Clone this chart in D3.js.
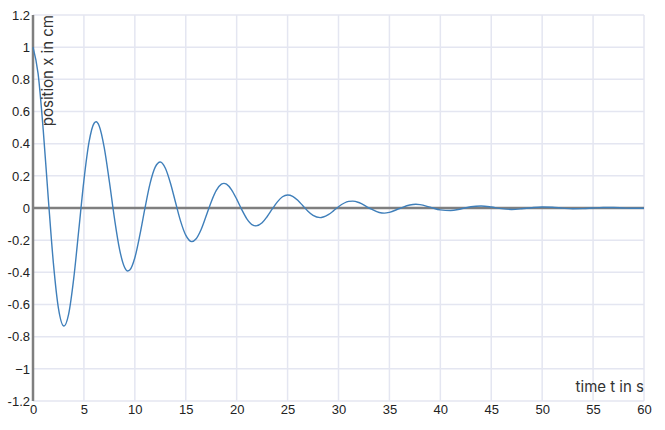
<!DOCTYPE html>
<html>
<head>
<meta charset="utf-8">
<script src="https://cdn.jsdelivr.net/npm/d3@7"></script>
<style>
  body { margin: 0; background: #fff; }
  svg { display: block; }
</style>
</head>
<body>
<div id="chart"></div>
<script>
// values
const timeS = [0, 0.5, 1, 1.5, 2, 2.5, 3.04, 3.5, 4, 4.5, 5, 5.5, 6, 6.2, 6.5, 7, 7.5, 8, 8.5, 9, 9.3, 9.5,
  10, 10.5, 11, 11.5, 12, 12.5, 13, 13.5, 14, 14.5, 15, 15.6, 16, 16.5, 17, 17.5, 18, 18.5, 18.75, 19, 19.5,
  20, 20.5, 21, 21.5, 21.9, 22.5, 23, 23.5, 24, 24.5, 25, 25.5, 26, 26.5, 27, 27.5, 28.2, 28.5, 29, 29.5,
  30, 31, 31.4, 32, 33, 34, 34.5, 35, 36, 37, 37.6, 38, 39, 40, 41, 42, 43, 44, 45, 46, 47, 48, 49,
  50, 51, 52, 53, 54, 55, 56, 57, 58, 59, 60];
const positionCm = [1.000, 0.835, 0.489, 0.061, -0.341, -0.624, -0.734, -0.660, -0.438, -0.134,
  0.172, 0.409, 0.527, 0.536, 0.510, 0.374, 0.164, -0.065, -0.257, -0.370, -0.392, -0.386,
  -0.309, -0.166, 0.001, 0.153, 0.254, 0.286, 0.247, 0.154, 0.034, -0.083,
  -0.169, -0.209, -0.193, -0.135, -0.050, 0.038, 0.109, 0.148, 0.153, 0.148, 0.113,
  0.055, -0.010, -0.067, -0.103, -0.111, -0.092, -0.053, -0.006, 0.038, 0.070,
  0.081, 0.073, 0.048, 0.014, -0.020, -0.046, -0.060, -0.056, -0.041, -0.018,
  0.008, 0.041, 0.043, 0.034, 0.000, -0.028, -0.032, -0.027, -0.003, 0.019, 0.023, 0.021, 0.005,
  -0.012, -0.016, -0.006, 0.008, 0.012, 0.006, -0.004, -0.009, -0.005, 0.002,
  0.006, 0.005, -0.001, -0.005, -0.004, 0.000, 0.003, 0.003, 0.000, -0.002, -0.002];

const xTicks = [0, 5, 10, 15, 20, 25, 30, 35, 40, 45, 50, 55, 60];
const yTicks = [-1.2, -1, -0.8, -0.6, -0.4, -0.2, 0, 0.2, 0.4, 0.6, 0.8, 1, 1.2];
const yTickLabels = ["-1.2", "\u22121", "-0.8", "-0.6", "-0.4", "-0.2", "0", "0.2", "0.4", "0.6", "0.8", "1", "1.2"];

const width = 665, height = 430;
const margins = { top: 15, right: 21, bottom: 29, left: 33 };

const svg = d3.select("#chart").append("svg")
  .attr("width", width)
  .attr("height", height);

const x = d3.scaleLinear().domain([0, 60]).range([margins.left, width - margins.right]);
const y = d3.scaleLinear().domain([-1.2, 1.2]).range([height - margins.bottom, margins.top]);

// grid
svg.append("g")
  .selectAll("line")
  .data(xTicks)
  .join("line")
  .attr("x1", d => x(d)).attr("x2", d => x(d))
  .attr("y1", margins.top).attr("y2", height - margins.bottom)
  .attr("stroke", "#e4e6f1")
  .attr("stroke-width", 1.5);

svg.append("g")
  .selectAll("line")
  .data(yTicks)
  .join("line")
  .attr("x1", margins.left).attr("x2", width - margins.right)
  .attr("y1", d => y(d)).attr("y2", d => y(d))
  .attr("stroke", "#e4e6f1")
  .attr("stroke-width", 1.5);

// x tick labels
svg.append("g")
  .attr("transform", `translate(0,${height - margins.bottom})`)
  .call(d3.axisBottom(x).tickValues(xTicks).tickSize(0).tickPadding(4))
  .call(g => g.select(".domain").remove())
  .selectAll("text")
  .attr("font-family", "'Liberation Sans', Arial, sans-serif")
  .attr("font-size", "13px")
  .attr("fill", "#222");

// y tick labels
svg.append("g")
  .attr("transform", `translate(${margins.left},0)`)
  .call(d3.axisLeft(y).tickValues(yTicks).tickSize(0).tickPadding(3)
    .tickFormat((d, i) => yTickLabels[i]))
  .call(g => g.select(".domain").remove())
  .selectAll("text")
  .attr("font-family", "'Liberation Sans', Arial, sans-serif")
  .attr("font-size", "13px")
  .attr("fill", "#222");

// zero line and left axis line
svg.append("line")
  .attr("x1", margins.left).attr("x2", width - margins.right)
  .attr("y1", y(0)).attr("y2", y(0))
  .attr("stroke", "#7f7f7f")
  .attr("stroke-width", 2.5);

svg.append("line")
  .attr("x1", x(0)).attr("x2", x(0))
  .attr("y1", margins.top).attr("y2", height - margins.bottom)
  .attr("stroke", "#7f7f7f")
  .attr("stroke-width", 2.5);

// curve
const points = timeS.map((t, i) => [t, positionCm[i]]);
const line = d3.line()
  .x(d => x(d[0]))
  .y(d => y(d[1]))
  .curve(d3.curveMonotoneX);

svg.append("path")
  .datum(points)
  .attr("fill", "none")
  .attr("stroke", "#3f7fba")
  .attr("stroke-width", 1.4)
  .attr("d", line);

// axis titles
svg.append("text")
  .attr("transform", `translate(${margins.left + 20},${margins.top}) rotate(-90)`)
  .attr("text-anchor", "end")
  .attr("font-family", "Inter, sans-serif")
  .attr("font-size", "15px")
  .attr("fill", "#333")
  .text("position x in cm");

svg.append("text")
  .attr("x", width - margins.right)
  .attr("y", height - margins.bottom - 9)
  .attr("text-anchor", "end")
  .attr("font-family", "Inter, sans-serif")
  .attr("font-size", "15px")
  .attr("fill", "#333")
  .text("time t in s");
</script>
</body>
</html>
